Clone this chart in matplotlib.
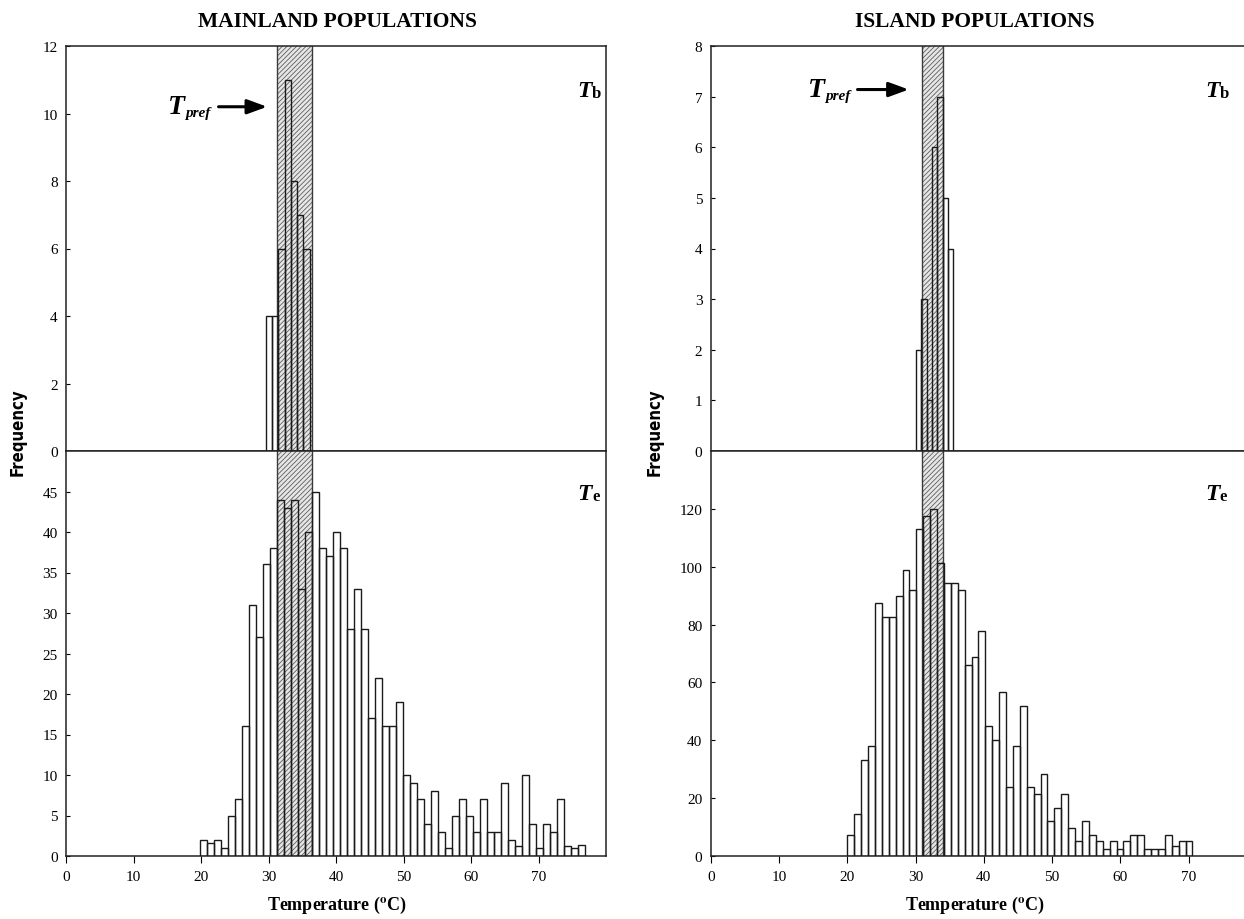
import matplotlib
matplotlib.use("Agg")
import matplotlib.pyplot as plt
import numpy as np

plt.rcParams['font.family'] = ['Liberation Serif', 'DejaVu Serif']
plt.rcParams['mathtext.fontset'] = 'stix'
plt.rcParams['hatch.linewidth'] = 0.6

# ---------------- DATA ----------------
# Mainland: body temperatures (Tb)
mainland_tb_start = 29.6
mainland_tb_width = 0.93
mainland_tb = [4, 4, 6, 11, 8, 7, 6]

# Mainland: operative temperatures (Te)
mainland_te_start = 19.85
mainland_te_width = 1.037
mainland_te = [2, 1.6, 2, 1, 5, 7, 16, 31, 27, 36, 38, 44, 43, 44, 33, 40, 45, 38,
               37, 40, 38, 28, 33, 28, 17, 22, 16, 16, 19, 10, 9, 7, 4, 8, 3, 1,
               5, 7, 5, 3, 7, 3, 3, 9, 2, 1.2, 10, 4, 1, 4, 3, 7, 1.2, 1, 1.4]

# Island: body temperatures (Tb)
island_tb_start = 30.07
island_tb_width = 0.776
island_tb = [2, 3, 1, 6, 7, 5, 4]

# Island: operative temperatures (Te)
island_te_start = 20.0
island_te_width = 1.011
island_te = [7.3, 14.4, 33.2, 38, 87.4, 82.7, 82.7, 89.9, 99, 91.9, 113, 117.6,
             120, 101.3, 94.4, 94.4, 91.9, 66, 68.7, 77.8, 44.9, 40.2, 56.6, 23.8,
             38, 51.8, 23.8, 21.5, 28.3, 12, 16.7, 21.5, 9.6, 5.1, 12, 7.3, 5.1,
             2.5, 5.1, 2.5, 5.1, 7.3, 7.3, 2.5, 2.5, 2.5, 7.3, 3.3, 5.1, 5.1]

# Preferred temperature ranges (Tpref)
mainland_tpref = (31.25, 36.45)
island_tpref = (30.95, 34.05)

x_ticks = [0, 10, 20, 30, 40, 50, 60, 70]
mainland_tb_yticks = [0, 2, 4, 6, 8, 10, 12]
mainland_te_yticks = [0, 5, 10, 15, 20, 25, 30, 35, 40, 45]
island_tb_yticks = [0, 1, 2, 3, 4, 5, 6, 7, 8]
island_te_yticks = [0, 20, 40, 60, 80, 100, 120]

titles = ["MAINLAND POPULATIONS", "ISLAND POPULATIONS"]

# ---------------- FIGURE ----------------
W, H = 1244, 920
fig = plt.figure(figsize=(W / 100, H / 100), dpi=100)

def frac_rect(x0, x1, ytop, ybot):
    return [x0 / W, 1 - ybot / H, (x1 - x0) / W, (ybot - ytop) / H]

edge_col = '#1a1a1a'

def draw_hist(ax, start, width, values, band, ylim, yticks, show_xlabels):
    ax.axvspan(band[0], band[1], facecolor='#e6e6e6', edgecolor='#5e5e5e',
               hatch='///////', linewidth=0.0, zorder=1)
    ax.axvline(band[0], color='#3a3a3a', lw=1.0, zorder=2)
    ax.axvline(band[1], color='#3a3a3a', lw=1.0, zorder=2)
    lefts = start + width * np.arange(len(values))
    ax.bar(lefts, values, width=width, align='edge', facecolor='none',
           edgecolor=edge_col, linewidth=1.0, zorder=3)
    ax.set_xlim(0, 80)
    ax.set_ylim(*ylim)
    ax.set_xticks(x_ticks)
    ax.set_yticks(yticks)
    ax.tick_params(axis='y', direction='in', length=3, labelsize=11, pad=6)
    ax.tick_params(axis='x', direction='out', length=5, labelsize=11, pad=5,
                   labelbottom=show_xlabels)
    for s in ax.spines.values():
        s.set_linewidth(1.1)
        s.set_color('#222222')

def label_T(ax, x, y, sub, tsize=17, ssize=12, italic_sub=False):
    t = ax.text(x, y, 'T', fontsize=tsize, fontweight='bold', fontstyle='italic',
                va='baseline', ha='left', zorder=5)
    ax.annotate(sub, xy=(1.0, 0.0), xycoords=t, va='bottom', ha='left',
                fontsize=ssize, fontweight='bold',
                fontstyle='italic' if italic_sub else 'normal', zorder=5)

# Left (mainland)
axL_top = fig.add_axes(frac_rect(66, 606, 47, 452))
axL_bot = fig.add_axes(frac_rect(66, 606, 452, 857))
draw_hist(axL_top, mainland_tb_start, mainland_tb_width, mainland_tb,
          mainland_tpref, (0, 12), mainland_tb_yticks, False)
draw_hist(axL_bot, mainland_te_start, mainland_te_width, mainland_te,
          mainland_tpref, (0, 50), mainland_te_yticks, True)

# Right (island) - extends past right edge of the image
axR_top = fig.add_axes(frac_rect(710.7, 1257, 47, 452))
axR_bot = fig.add_axes(frac_rect(710.7, 1257, 452, 857))
draw_hist(axR_top, island_tb_start, island_tb_width, island_tb,
          island_tpref, (0, 8), island_tb_yticks, False)
draw_hist(axR_bot, island_te_start, island_te_width, island_te,
          island_tpref, (0, 140), island_te_yticks, True)

# Tb / Te labels
label_T(axL_top, 75.8, 10.53, 'b')
label_T(axL_bot, 75.8, 44.1, 'e')
label_T(axR_top, 72.4, 7.02, 'b')
label_T(axR_bot, 72.4, 123.4, 'e')

# Tpref labels with arrows
label_T(axL_top, 15.1, 10.0, 'pref', tsize=20, ssize=11, italic_sub=True)
axL_top.annotate('', xy=(29.8, 10.2), xytext=(22.6, 10.2),
                 arrowprops=dict(arrowstyle='-|>,head_length=0.6,head_width=0.22',
                                 lw=2.2, color='black', mutation_scale=20,
                                 shrinkA=0, shrinkB=0), zorder=6)
label_T(axR_top, 14.3, 7.02, 'pref', tsize=20, ssize=11, italic_sub=True)
axR_top.annotate('', xy=(29.0, 7.14), xytext=(21.5, 7.14),
                 arrowprops=dict(arrowstyle='-|>,head_length=0.6,head_width=0.22',
                                 lw=2.2, color='black', mutation_scale=20,
                                 shrinkA=0, shrinkB=0), zorder=6)

# Titles
fig.text(337 / W, 1 - 22 / H, titles[0], ha='center', va='center',
         fontsize=15.5, fontweight='bold')
fig.text(975 / W, 1 - 22 / H, titles[1], ha='center', va='center',
         fontsize=15.5, fontweight='bold')

# Axis labels
for xc in (337, 975):
    fig.text(xc / W, 1 - 905 / H, r'Temperature ($^{\mathbf{o}}$C)', ha='center',
             va='center', fontsize=13, fontweight='bold')
for xc in (18, 655):
    fig.text(xc / W, 1 - 432 / H, 'Frequency', ha='center', va='center',
             rotation=90, fontsize=12, fontweight='bold', fontstretch='condensed',
             family=['DejaVu Sans'])

fig.savefig('out.png', dpi=100)
